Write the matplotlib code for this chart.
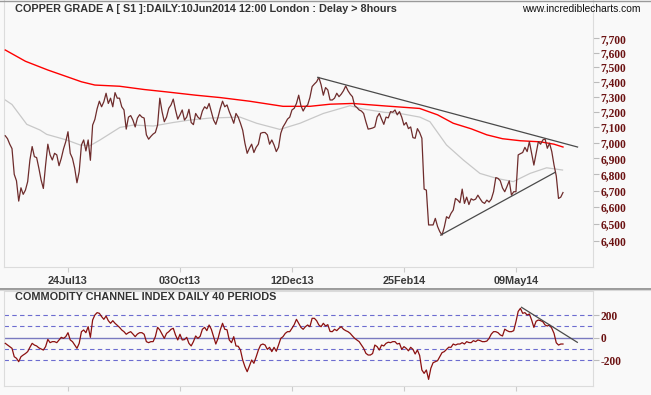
import matplotlib
matplotlib.use('Agg')
import matplotlib.pyplot as plt
import matplotlib.ticker as mticker
from matplotlib.lines import Line2D

# ---------------- data ----------------
close = [
    7044, 7025, 6990, 6962, 6800, 6760, 6636, 6717, 6677, 6703,
    6755, 6890, 6975, 6911, 6905, 6838, 6765, 6713, 6858, 6990,
    6922, 6890, 6932, 6922, 6854, 6900, 6960, 7006, 7070, 6932,
    6900, 6838, 6748, 6817, 6985, 7017, 6947, 7017, 6888, 7113,
    7150, 7220, 7270, 7233, 7266, 7323, 7255, 7290, 7233, 7327,
    7290, 7290, 7233, 7212, 7087, 7165, 7175, 7145, 7101, 7159,
    7181, 7165, 7159, 7050, 7022, 7040, 7055, 7065, 7113, 7290,
    7201, 7135, 7165, 7223, 7245, 7284, 7212, 7152, 7180, 7212,
    7146, 7165, 7216, 7130, 7116, 7189, 7165, 7152, 7205, 7233,
    7220, 7255, 7201, 7146, 7118, 7165, 7223, 7270, 7233, 7245,
    7201, 7165, 7125, 7189, 7165, 7125, 7080, 6996, 6932, 6964,
    6990, 6937, 6970, 6990, 7060, 7065, 7065, 7050, 6990, 7017,
    6985, 6943, 6970, 7060, 7101, 7125, 7152, 7165, 7212, 7223,
    7255, 7310, 7240, 7205, 7233, 7245, 7294, 7368, 7385, 7400,
    7430, 7380, 7310, 7361, 7345, 7278, 7278, 7290, 7323, 7300,
    7317, 7340, 7372, 7340, 7317, 7300, 7240, 7228, 7212, 7205,
    7189, 7135, 7087, 7090, 7094, 7101, 7165, 7189, 7152, 7118,
    7165, 7160, 7201, 7197, 7212, 7180, 7201, 7165, 7113, 7130,
    7090, 7101, 7032, 7028, 7090, 7065, 7028, 6709, 6703, 6493,
    6493, 6493, 6532, 6484, 6453, 6433, 6480, 6542, 6532, 6562,
    6582, 6652, 6642, 6626, 6709, 6622, 6660, 6615, 6650, 6642,
    6648, 6672, 6650, 6630, 6622, 6642, 6630, 6648, 6693, 6780,
    6775, 6760, 6716, 6693, 6725, 6760, 6672, 6693, 6693, 6922,
    6930, 6937, 6970, 6943, 7006, 6932, 6858, 6932, 7006, 6990,
    7017, 7024, 6964, 6996, 6943, 6858, 6790, 6652, 6660, 6688,
]

cci = [
    -50, -65, -79, -94, -168, -182, -212, -168, -153, -140,
    -123, -85, -50, -65, -73, -90, -100, -109, -79, -15,
    -44, -35, -35, -44, -20, 3, -6, 9, 44, -20,
    -35, -65, -94, -50, 53, 68, 44, 97, 3, 156,
    200, 221, 215, 186, 162, 191, 150, 127, 150, 127,
    109, 91, 68, 53, 30, 44, 53, 32, 9, 32,
    44, 44, 30, -35, -44, -35, -35, 9, 91, 68,
    32, -6, 38, 53, 74, 83, 24, -20, 30, -20,
    -17, 3, -50, -73, -35, 15, -6, 12, 74, 91,
    62, 112, 74, 9, -56, -6, 70, 127, 74, 70,
    -20, -44, 9, -73, -76, -109, -197, -256, -300, -250,
    -197, -226, -170, -109, -65, -56, -65, -103, -85, -123,
    -85, -120, -65, -6, 9, 38, 53, 53, 83, 115,
    162, 127, 91, 74, 97, 112, 97, 171, 171, 150,
    112, 97, 127, 103, 115, 55, 53, 74, 62, 83,
    97, 74, 62, 53, 38, 15, -6, -20, -35, -65,
    -94, -138, -153, -153, -140, -65, -79, -109, -65, -73,
    -50, -40, -44, -35, -35, -56, -50, -103, -79, -94,
    -116, -85, -103, -144, -109, -157, -285, -315, -285, -368,
    -270, -221, -212, -203, -168, -132, -123, -103, -84, -85,
    -56, -65, -56, -56, -44, -56, -35, -43, -44, -26,
    -35, -20, -26, -35, -35, -30, -6, 32, 53, 53,
    44, 24, 15, 75, 62, 53, 53, 62, 141, 232,
    259, 215, 221, 200, 209, 156, 91, 145, 156, 150,
    141, 112, 103, 112, 83, 38, -45, -65, -56, -56,
]

# slow moving average (red), read at sample bars
ma_red_bar = [0, 9, 19, 28, 34, 40, 51, 62, 72, 85, 96, 109, 124, 136, 145,
              155, 170, 185, 193, 200, 208, 215, 222, 230, 239, 245, 249]
ma_red = [7618, 7540, 7480, 7432, 7400, 7378, 7370, 7348, 7332, 7310, 7294,
          7270, 7236, 7236, 7250, 7255, 7238, 7222, 7180, 7125, 7089, 7050,
          7025, 7012, 7005, 6990, 6972]

# faster moving average (grey), read at sample bars
ma_gray_bar = [0, 3, 9.6, 15.5, 18.5, 27.4, 33.4, 37.8, 42.3, 51.2, 57.2, 66.1,
               75, 82.5, 91.4, 104.8, 112.2, 122.6, 131.6, 142, 153.9, 159.8,
               169.5, 176.2, 185.1, 189.6, 197, 204.5, 211.9, 219.4, 226.8,
               234.3, 241.7, 248.8]
ma_gray = [7278, 7248, 7118, 7081, 7053, 7017, 6985, 6980, 7017, 7098, 7113,
           7107, 7130, 7146, 7159, 7165, 7125, 7085, 7125, 7189, 7240, 7218,
           7196, 7189, 7165, 7135, 6985, 6890, 6806, 6775, 6755, 6806, 6841,
           6827]

# drawn trend lines (bar, value)
res_bar, res_val = [139.5, 255.5], [7430, 6972]
sup_bar, sup_val = [194.4, 245.4], [6433, 6812]
cci_tl_bar, cci_tl_val = [230.5, 255.4], [268, -41]

tick_bars = [28, 78, 128, 178, 228]
tick_labels = ['24Jul13', '03Oct13', '12Dec13', '25Feb14', '09May14']
price_ticks = [6400, 6500, 6600, 6700, 6800, 6900, 7000, 7100, 7200, 7300,
               7400, 7500, 7600, 7700]
cci_ticks = [-200, 0, 200]
cci_tick_labels = ['-200', '0', '200']
cci_levels = [-200, -100, 100, 200]

title = 'COPPER GRADE A [ S1 ]:DAILY:10Jun2014 12:00 London : Delay > 8hours'
site = 'www.incrediblecharts.com'
cci_title = 'COMMODITY CHANNEL INDEX DAILY 40 PERIODS'

# ---------------- drawing ----------------
W, H = 651, 395
BG = '#f9f9f9'
BORDER = '#dcdcdc'
LBL = '#6b1212'

fig = plt.figure(figsize=(W / 100, H / 100), dpi=100, facecolor=BG)


def box(l, t, r, b):
    return [l / W, 1 - b / H, (r - l) / W, (b - t) / H]


ax = fig.add_axes(box(4, 0, 593, 266.7))
ax2 = fig.add_axes(box(4, 291, 593, 386))

bars = list(range(len(close)))
xlim = (-0.57, 262.4)

for a in (ax, ax2):
    a.set_facecolor(BG)
    a.set_xlim(*xlim)
    for s in a.spines.values():
        s.set_color(BORDER)
        s.set_linewidth(0.8)
    a.yaxis.tick_right()
    a.set_xticks(tick_bars)
    a.tick_params(axis='x', direction='out', length=3.5, width=0.8,
                  color='#cccccc')
    a.tick_params(axis='y', direction='out', length=4, width=0.8,
                  color='#bbbbbb', pad=1.5, labelcolor=LBL, labelsize=8.3)
ax.spines['top'].set_visible(False)

# main price panel
ax.set_yscale('log')
ax.set_ylim(6250, 7974)
ax.yaxis.set_major_locator(mticker.FixedLocator(price_ticks))
ax.yaxis.set_major_formatter(mticker.FixedFormatter([f'{v:,}' for v in price_ticks]))
ax.yaxis.set_minor_locator(mticker.NullLocator())
ax.yaxis.set_minor_formatter(mticker.NullFormatter())
ax.set_xticklabels(tick_labels)
ax.tick_params(axis='x', pad=3.2, labelsize=7.8, labelcolor='#3a3a3a')
for lbl in ax.get_xticklabels():
    lbl.set_fontfamily('Liberation Sans')
    lbl.set_fontweight('bold')

ax.plot(ma_gray_bar, ma_gray, color='#c8c8c8', lw=0.9, zorder=2)
ax.plot(ma_red_bar, ma_red, color='#ff0000', lw=1.0, zorder=3)
ax.plot(bars, close, color='#6e2c2c', lw=0.9, zorder=4)
ax.plot(res_bar, res_val, color='#4a4a4a', lw=0.9, zorder=5)
ax.plot(sup_bar, sup_val, color='#4a4a4a', lw=0.9, zorder=5)

# CCI panel
ax2.set_ylim(-426.5, 412)
ax2.set_yticks(cci_ticks)
ax2.set_yticklabels(cci_tick_labels)
ax2.set_xticklabels([])
for lv in cci_levels:
    ax2.axhline(lv, color='#6c6cd0', lw=0.8, ls=(0, (4, 3)), zorder=1)
ax2.axhline(0, color='#7a7ac0', lw=1.0, zorder=1)
ax2.plot(bars, cci, color='#8b1010', lw=0.9, zorder=3)
ax2.plot(cci_tl_bar, cci_tl_val, color='#4a4a4a', lw=0.9, zorder=4)

for a in (ax, ax2):
    for lbl in a.get_yticklabels():
        lbl.set_fontfamily('Liberation Serif')
        lbl.set_fontweight('bold')

# titles
fig.text(15 / W, 1 - 9 / H, title, fontsize=7.8, fontweight='bold',
         color='#333333', va='center', family='Liberation Sans')
fig.text(641 / W, 1 - 9 / H, site, fontsize=7.4, color='#111111',
         va='center', ha='right', family='Liberation Sans')
fig.text(15 / W, 1 - 297.5 / H, cci_title, fontsize=7.8, fontweight='bold',
         color='#333333', va='center', family='Liberation Sans')

# separators
fig.add_artist(Line2D([0, 1], [1 - 0.5 / H, 1 - 0.5 / H], color='#9a9a9a', lw=1.0))
fig.add_artist(Line2D([0, 1], [1 - 288.5 / H, 1 - 288.5 / H], color='#9a9a9a', lw=1.4))
fig.add_artist(Line2D([0, 1], [1 - 290.2 / H, 1 - 290.2 / H], color='#d8d8d8', lw=0.8))

fig.savefig('out.png', dpi=100, facecolor=BG)
